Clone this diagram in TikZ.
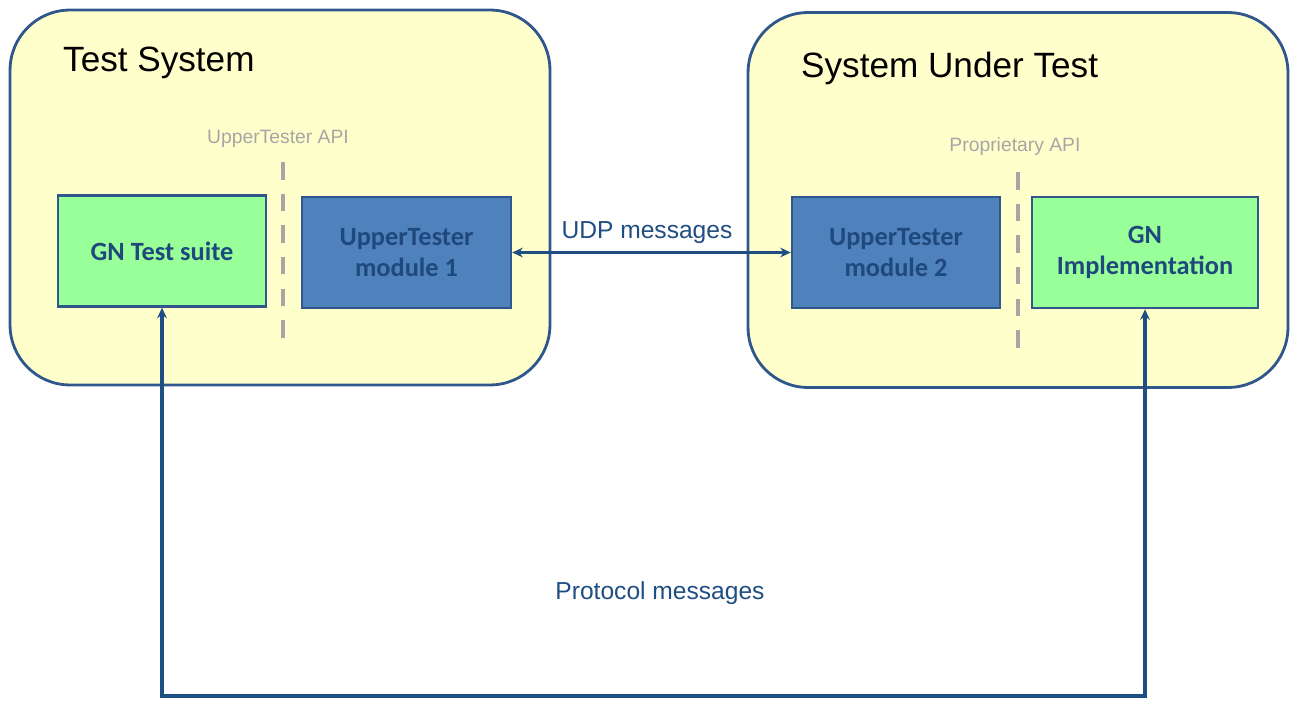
\documentclass[tikz,border=0pt]{standalone}
\usepackage{fontspec}
\setmainfont{Liberation Sans}
\newfontfamily\boxfont{Carlito}
\usepackage{tikz}
\usetikzlibrary{positioning,arrows.meta}

\definecolor{sysfill}{HTML}{FFFFCC}
\definecolor{sysline}{HTML}{30578C}
\definecolor{gnfill}{HTML}{99FF99}
\definecolor{utfill}{HTML}{4F81BD}
\definecolor{uttext}{HTML}{1F497D}
\definecolor{msgline}{HTML}{1F4E82}
\definecolor{apigray}{HTML}{A6A6A6}

\begin{document}
\begin{tikzpicture}
    % 坐标单位: 1 = 一个像素, y 轴向下
    [x=0.02cm, y=-0.02cm,
    SysBox/.style={rectangle, rounded corners=1.2cm, draw=sysline, fill=sysfill, line width=1.6pt, minimum width=10.8cm, minimum height=7.5cm},
    GNNode/.style={rectangle, draw=sysline, fill=gnfill, line width=1.4pt, minimum width=4.16cm, minimum height=2.22cm, inner sep=0pt, align=center, text=uttext, font=\boxfont\bfseries\fontsize{15}{18}\selectfont},
    UTNode/.style={rectangle, draw=sysline, fill=utfill, line width=1.4pt, minimum width=4.16cm, minimum height=2.22cm, inner sep=0pt, align=center, text=uttext, font=\boxfont\bfseries\fontsize{15}{18}\selectfont},
    APILine/.style={draw=apigray, line width=2.8pt, dash pattern=on 10pt off 8pt},
    APIText/.style={text=apigray, font=\fontsize{11}{13}\selectfont},
    MsgLine/.style={draw=msgline, line width=1.8pt, {Stealth[length=6pt,width=5.5pt]}-{Stealth[length=6pt,width=5.5pt]}}]

    % 画布大小
    \useasboundingbox (0,0) rectangle (1291,700);

    % 两个系统的背景框
    \node[SysBox] (sys_1) at (280,197.5) {};
    \node[SysBox] (sys_2) at (1018,200) {};

    % 系统名称
    \node[anchor=west, font=\fontsize{20}{24}\selectfont] (title_1) at (57,63) {Test System};
    \node[anchor=west, font=\fontsize{20}{24}\selectfont] (title_2) at (795,68) {System Under Test};

    % 左边系统中的结点
    \node[GNNode] (gn_1) at (162,251) {GN Test suite};
    \node[UTNode, minimum width=4.18cm] (ut_1) at (406.5,252.5) {UpperTester\\module 1};

    % 右边系统中的结点
    \node[UTNode] (ut_2) at (896,252.5) {UpperTester\\module 2};
    \node[GNNode, minimum width=4.52cm] (gn_2) at (1145,252.5) {GN\\Implementation};

    % API 虚线和说明文字
    \node[APIText] (api_1) at (278,139) {UpperTester API};
    \node[APIText] (api_2) at (1015,146) {Proprietary API};
    \coordinate (d1_top) at (283,162);
    \coordinate (d1_bot) at (283,340);
    \coordinate (d2_top) at (1018,172);
    \coordinate (d2_bot) at (1018,350);
    \draw[APILine] (d1_top)--(d1_bot);
    \draw[APILine] (d2_top)--(d2_bot);

    % UDP 消息连线
    \draw[MsgLine] (ut_1)--(ut_2);
    \node[text=msgline, font=\fontsize{14}{17}\selectfont] (udp) at (647,233) {UDP messages};

    % 协议消息连线
    \coordinate (p_1) at (gn_1.south |- 0,696);
    \coordinate (p_2) at (gn_2.south |- 0,696);
    \draw[MsgLine] (gn_1.south)--(p_1)--(p_2)--(gn_2.south);
    \node[text=msgline, font=\fontsize{14}{17}\selectfont] (proto) at (660,593) {Protocol messages};
\end{tikzpicture}
\end{document}
